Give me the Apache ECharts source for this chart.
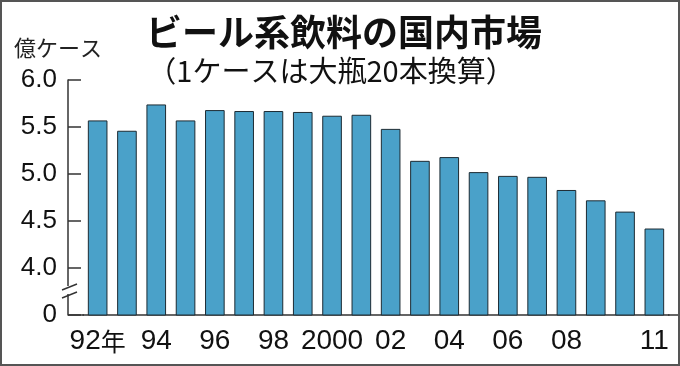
<!DOCTYPE html>
<html><head><meta charset="utf-8">
<script src="https://cdn.jsdelivr.net/npm/echarts@6/dist/echarts.min.js"></script>
<style>html,body{margin:0;padding:0;background:#fff}#c{width:680px;height:366px}</style>
</head><body><div id="c"></div>
<script>
const years = [1992,1993,1994,1995,1996,1997,1998,1999,2000,2001,2002,2003,2004,2005,2006,2007,2008,2009,2010,2011];
const xTickLabels = ['92年','','94','','96','','98','','2000','','02','','04','','06','','08','','','11'];
const values = [5.57,5.46,5.74,5.57,5.68,5.67,5.67,5.66,5.62,5.63,5.48,5.14,5.18,5.02,4.98,4.97,4.83,4.72,4.60,4.42];
const yTickLabels = ['0','4.0','4.5','5.0','5.5','6.0'];
const titleText = 'ビール系飲料の国内市場';
const subtitleText = '（1ケースは大瓶20本換算）';
const unitText = '億ケース';

const chart = echarts.init(document.getElementById('c'), null, {renderer:'canvas'});
const sans = "'Liberation Sans',Arial,sans-serif";
const cjk = "'Noto Sans CJK JP','Noto Sans',sans-serif";
chart.setOption({
  animation:false,
  backgroundColor:'#fff',
  grid:{left:83,right:11,top:80,bottom:51,containLabel:false},
  xAxis:{
    type:'category', data:years.map(String),
    axisTick:{show:false},
    axisLine:{lineStyle:{color:'#333',width:1.5}},
    axisLabel:{interval:0, margin:12, color:'#111', fontFamily:sans, fontSize:28,
      formatter:(v,i)=>{const t=xTickLabels[i]; if(!t) return ''; if(t.endsWith('年')) return '{n|'+t.slice(0,-1)+'}{k|年}'; return '{n|'+t+'}';},
      rich:{n:{fontFamily:sans,fontSize:28,color:'#111'},k:{fontFamily:cjk,fontSize:25,color:'#111'}}
    }
  },
  yAxis:{
    type:'value', min:3.5, max:6.0, interval:0.5, offset:15,
    splitLine:{show:false},
    axisLine:{show:true,lineStyle:{color:'#333',width:1.5}},
    axisTick:{show:true,inside:true,length:13,lineStyle:{color:'#333',width:1.5}},
    axisLabel:{margin:11,color:'#111',fontFamily:sans,fontSize:26,
      formatter:(v,i)=>yTickLabels[i]}
  },
  series:[{
    type:'bar', data:values, barCategoryGap:'33%',
    itemStyle:{color:'#4aa1c9',borderColor:'#1d2b33',borderWidth:1}
  }],
  graphic:[
    {type:'line',z:100,shape:{x1:68,y1:315,x2:84,y2:315},style:{stroke:'#333',lineWidth:1.5}},
    {type:'line',z:100,shape:{x1:668,y1:315,x2:680,y2:315},style:{stroke:'#333',lineWidth:1.5}},
    {type:'rect',z:100,shape:{x:66,y:286,width:4,height:8},style:{fill:'#fff'}},
    {type:'line',z:101,shape:{x1:62,y1:290,x2:77,y2:284},style:{stroke:'#333',lineWidth:1.5}},
    {type:'line',z:101,shape:{x1:62,y1:298,x2:77,y2:292},style:{stroke:'#333',lineWidth:1.5}},
    {type:'text',z:100,x:344,y:32,style:{text:titleText,font:"bold 36px "+cjk,fill:'#111',textAlign:'center',textVerticalAlign:'middle'}},
    {type:'text',z:100,x:331,y:71,style:{text:subtitleText,font:"29px "+cjk,fill:'#111',textAlign:'center',textVerticalAlign:'middle'}},
    {type:'text',z:100,x:14,y:48,style:{text:unitText,font:"22px "+cjk,fill:'#222',textAlign:'left',textVerticalAlign:'middle'}},
    {type:'rect',z:100,shape:{x:1,y:1,width:678,height:364},style:{fill:'none',stroke:'#555',lineWidth:2}}
  ]
});
</script></body></html>
